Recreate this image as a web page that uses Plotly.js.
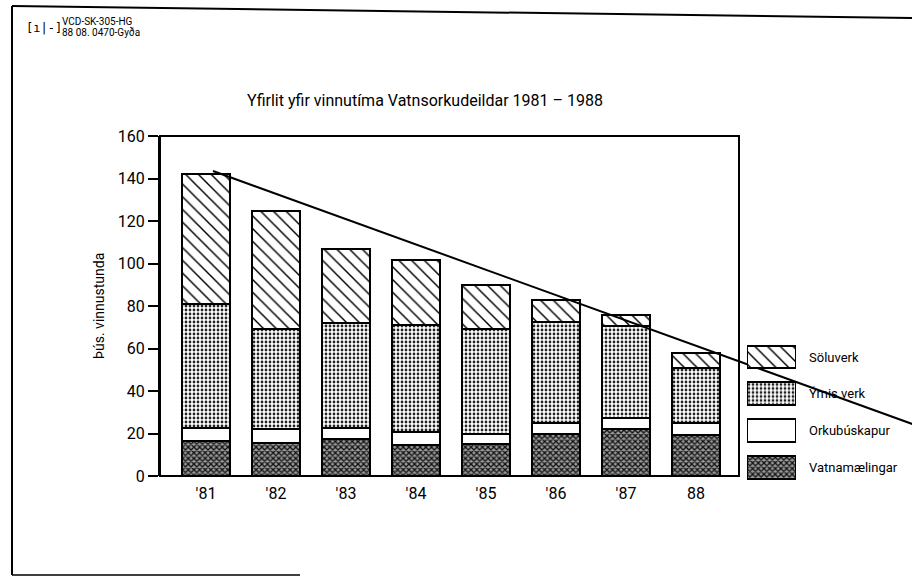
<!DOCTYPE html>
<html>
<head>
<meta charset="utf-8">
<script src="https://cdn.plot.ly/plotly-3.0.1.min.js"></script>
<style>html,body{margin:0;padding:0;background:#fff;}#chart{width:912px;height:576px;}</style>
</head>
<body>
<div id="chart"></div>
<script>
// ---- data ----
const years = ["'81", "'82", "'83", "'84", "'85", "'86", "'87", "88"];
const vatnamaelingar = [16.5, 15.5, 17.5, 14.5, 15, 20, 22, 19.5];
const orkubuskapur   = [6, 6.5, 5, 6, 5, 5, 5.5, 5.5];
const ymisVerk       = [58.5, 47, 49.5, 50.5, 49, 47.5, 43, 26];
const soluverk       = [61, 55.5, 35, 30.5, 21, 10.5, 5.5, 7];
const seriesNames    = ["Vatnamælingar", "Orkubúskapur", "Ýmis verk", "Söluverk"];
const trendX = [0.1, 10.09];
const trendY = [143.5, 24.5];
const yTicks = [0, 20, 40, 60, 80, 100, 120, 140, 160];

// ---- styles ----
const FONT = "Roboto, 'DejaVu Sans', sans-serif";
const styles = [
  {color: "#8a8a8a", pattern: {shape: "x", size: 4, solidity: 0.55, fgcolor: "#111", bgcolor: "#9a9a9a"}},
  {color: "#ffffff", pattern: {shape: "", fgcolor: "#000", bgcolor: "#fff"}},
  {color: "#ffffff", pattern: {shape: ".", size: 4, solidity: 0.38, fgcolor: "#222", bgcolor: "#fff"}},
  {color: "#ffffff", pattern: {shape: "\\", size: 9, solidity: 0.16, fgcolor: "#000", bgcolor: "#fff"}}
];
const seriesValues = [vatnamaelingar, orkubuskapur, ymisVerk, soluverk];
const xIdx = years.map((_, i) => i);

const traces = seriesValues.map((vals, k) => ({
  type: "bar",
  name: seriesNames[k],
  x: xIdx,
  y: vals,
  width: 0.69,
  marker: {color: styles[k].color, pattern: styles[k].pattern, line: {color: "#000", width: 2}},
  showlegend: false,
  hoverinfo: "skip"
}));

traces.push({
  type: "scatter", mode: "lines",
  x: trendX, y: trendY,
  line: {color: "#000", width: 2},
  showlegend: false, hoverinfo: "skip"
});

// custom legend drawn as a small bar subplot (top to bottom: Söluverk ... Vatnamælingar)
seriesNames.forEach((nm, k) => {
  traces.push({
    type: "bar", orientation: "h",
    xaxis: "x2", yaxis: "y2",
    y: [nm], x: [1],
    width: 0.62,
    marker: {color: styles[k].color, pattern: styles[k].pattern, line: {color: "#000", width: 2}},
    showlegend: false, hoverinfo: "skip"
  });
});
const legendOrder = seriesNames.slice().reverse();

const W = 912, H = 576;
const px = v => v / W;
const py = v => 1 - v / H;

const layout = {
  width: W, height: H,
  margin: {l: 0, r: 0, t: 0, b: 0},
  paper_bgcolor: "#fff", plot_bgcolor: "rgba(0,0,0,0)",
  font: {family: FONT, color: "#000"},
  barmode: "stack",
  showlegend: false,
  title: {
    text: "Yfirlit yfir vinnutíma Vatnsorkudeildar 1981 – 1988",
    x: px(425), xanchor: "center", y: py(100), yanchor: "middle",
    font: {family: FONT, size: 16, color: "#000"}
  },
  xaxis: {
    domain: [px(160), 1],
    range: [-0.657, 10.086],
    tickvals: xIdx, ticktext: years,
    tickfont: {size: 16, family: FONT},
    ticks: "", ticklabelstandoff: 6,
    showgrid: false, zeroline: false, showline: false
  },
  yaxis: {
    domain: [py(476), py(136)],
    range: [0, 160],
    tickvals: yTicks,
    tickfont: {size: 16, family: FONT},
    ticks: "outside", ticklen: 10, tickwidth: 2, tickcolor: "#000",
    showline: true, linewidth: 2, linecolor: "#000",
    showgrid: false, zeroline: false,
    title: {text: "Þús. vinnustunda", font: {size: 14, family: FONT}, standoff: 10}
  },
  xaxis2: {domain: [px(747), px(796)], range: [0, 1], visible: false, fixedrange: true},
  yaxis2: {
    domain: [py(486), py(338.5)], anchor: "x2",
    type: "category", categoryorder: "array", categoryarray: legendOrder,
    range: [3.5, -0.5],
    side: "right", ticks: "", ticklabelstandoff: 12,
    tickfont: {size: 13, family: FONT},
    showgrid: false, zeroline: false, showline: false
  },
  shapes: [
    // plot frame
    {type: "rect", xref: "paper", yref: "paper", x0: px(160), x1: px(739), y0: py(476), y1: py(136),
     line: {color: "#000", width: 2}, fillcolor: "rgba(0,0,0,0)", layer: "above"},
    // page border
    {type: "line", xref: "paper", yref: "paper", x0: px(12), x1: px(12), y0: py(6), y1: py(575), line: {color: "#000", width: 2}},
    {type: "line", xref: "paper", yref: "paper", x0: px(12), x1: 1, y0: py(6), y1: py(18), line: {color: "#000", width: 2}},
    {type: "line", xref: "paper", yref: "paper", x0: px(12), x1: px(300), y0: py(575), y1: py(575), line: {color: "#000", width: 1.5}}
  ],
  annotations: [
    {xref: "paper", yref: "paper", x: px(24), y: py(28), xanchor: "left", yanchor: "middle",
     text: "[ı|-]", showarrow: false, font: {size: 12, family: "'DejaVu Sans Mono', monospace"}},
    {xref: "paper", yref: "paper", x: px(60), y: py(22), xanchor: "left", yanchor: "middle",
     text: "VCD-SK-305-HG", showarrow: false, font: {size: 10, family: FONT}},
    {xref: "paper", yref: "paper", x: px(60), y: py(32), xanchor: "left", yanchor: "middle",
     text: "88 08. 0470-Gyða", showarrow: false, font: {size: 10, family: FONT}}
  ]
};

Plotly.newPlot("chart", traces, layout, {staticPlot: true, displayModeBar: false});
</script>
</body>
</html>
